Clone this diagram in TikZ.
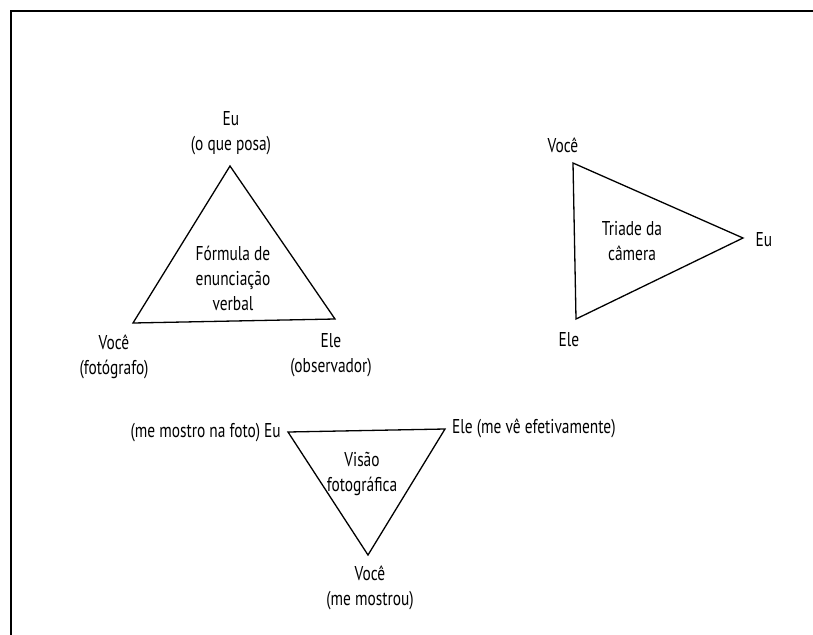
\documentclass[tikz,border=0pt]{standalone}
\usepackage{fontspec}
\setmainfont[FakeStretch=0.77]{PT Sans}
\begin{document}
\begin{tikzpicture}[x=1pt,y=-1pt,
  lbl/.style={inner sep=0pt,align=center,font=\fontsize{20}{25}\selectfont},
  edge/.style={line width=1.3pt,line join=miter}]
\useasboundingbox (0,0) rectangle (813,634);
\draw[line width=2.6pt] (11,640) -- (11,11) -- (820,11);
% Triangle 1
\coordinate (a1) at (230,166);
\coordinate (b1) at (133,323);
\coordinate (c1) at (335,319);
\draw[edge] (a1) -- (b1) -- (c1) -- cycle;
\node[lbl] (t1a) at (231,133) {Eu\\(o que posa)};
\node[lbl] (t1b) at (114,357) {Você\\(fotógrafo)};
\node[lbl] (t1c) at (331,355) {Ele\\(observador)};
\node[lbl] (t1m) at (233,278) {Fórmula de\\enunciação\\verbal};
% Triangle 2
\coordinate (a2) at (573,163);
\coordinate (b2) at (576,319);
\coordinate (c2) at (743,238);
\draw[edge] (a2) -- (b2) -- (c2) -- cycle;
\node[lbl] (t2a) at (563,145) {Você};
\node[lbl] (t2b) at (569,340) {Ele};
\node[lbl] (t2c) at (764,240) {Eu};
\node[lbl] (t2m) at (632,241) {Triade da\\câmera};
% Triangle 3
\coordinate (a3) at (288,432);
\coordinate (b3) at (445,429);
\coordinate (c3) at (368,555);
\draw[edge] (a3) -- (b3) -- (c3) -- cycle;
\node[lbl,anchor=east] (t3a) at (281,433) {(me mostro na foto) Eu};
\node[lbl,anchor=west] (t3b) at (452,428) {Ele (me vê efetivamente)};
\node[lbl] (t3c) at (370,588) {Você\\(me mostrou)};
\node[lbl] (t3m) at (362,474) {Visão\\fotográfica};
\end{tikzpicture}
\end{document}
